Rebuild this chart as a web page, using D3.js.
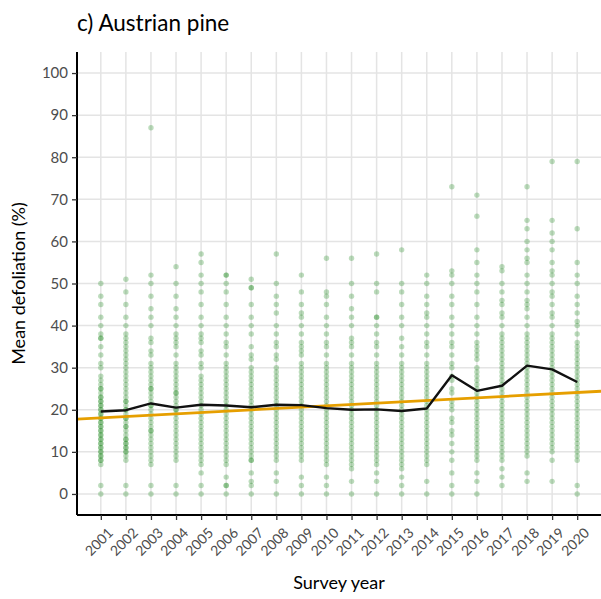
<!DOCTYPE html>
<html>
<head>
<meta charset="utf-8">
<script src="https://cdn.jsdelivr.net/npm/d3@7"></script>
<style>
  html, body { margin: 0; padding: 0; background: #fff; }
  svg { display: block; }
</style>
</head>
<body>
<svg id="chart" width="601" height="599"></svg>
<script>
// Survey years
const years = d3.range(2001, 2021);

// Mean defoliation (%) of individual Austrian pine trees, per survey year
const treeValues = {
  2001: [50, 47, 45, 42, 40, 38, 37, 37, 35, 33, 31, 30, 28, 27, 26, 25, 25, 24, 23, 23, 22, 22, 21, 21, 20, 20, 19, 19, 18, 18, 17, 17, 16, 16, 15, 15, 14, 14, 13, 13, 12, 12, 11, 11, 10, 10, 9, 9, 8, 8, 7, 2, 0],
  2002: [51, 48, 45, 42, 40, 38, 37, 36, 35, 34, 33, 32, 31, 30, 29, 28, 27, 26, 25, 24, 23, 22, 22, 21, 20, 20, 19, 18, 18, 17, 16, 16, 15, 14, 13, 13, 12, 12, 11, 11, 10, 10, 9, 8, 2, 0],
  2003: [87, 52, 50, 47, 44, 42, 40, 37, 36, 34, 33, 31, 30, 29, 28, 27, 26, 25, 25, 24, 23, 22, 21, 21, 20, 19, 18, 17, 16, 15, 15, 14, 13, 12, 11, 10, 9, 8, 7, 2, 0],
  2004: [54, 50, 47, 44, 42, 40, 38, 37, 36, 35, 33, 31, 30, 29, 28, 27, 26, 25, 24, 24, 23, 22, 21, 20, 20, 19, 18, 17, 16, 15, 14, 13, 12, 11, 10, 9, 8, 2, 0],
  2005: [57, 55, 52, 50, 48, 45, 42, 40, 38, 37, 36, 34, 33, 31, 30, 28, 27, 26, 25, 24, 23, 22, 21, 20, 19, 18, 17, 16, 15, 14, 13, 12, 11, 10, 9, 8, 7, 5, 2, 0],
  2006: [52, 52, 50, 48, 45, 42, 40, 38, 36, 35, 33, 31, 30, 29, 28, 27, 26, 25, 24, 23, 22, 21, 20, 19, 18, 17, 16, 15, 14, 13, 12, 11, 10, 9, 8, 7, 4, 2, 2, 0],
  2007: [51, 49, 49, 45, 42, 40, 38, 35, 33, 32, 30, 29, 28, 27, 26, 25, 24, 23, 22, 21, 20, 19, 18, 17, 16, 15, 14, 13, 12, 11, 10, 9, 8, 8, 5, 3, 2, 0],
  2008: [57, 50, 47, 45, 43, 40, 38, 36, 35, 33, 32, 30, 29, 28, 27, 26, 25, 24, 23, 22, 21, 20, 19, 18, 17, 16, 15, 14, 13, 12, 11, 10, 9, 8, 5, 3, 0],
  2009: [52, 48, 45, 43, 42, 40, 38, 36, 35, 34, 33, 31, 30, 29, 28, 27, 26, 25, 24, 23, 22, 21, 20, 19, 18, 17, 16, 15, 14, 13, 12, 11, 10, 9, 8, 4, 2, 0],
  2010: [56, 48, 47, 45, 42, 40, 38, 36, 35, 33, 31, 30, 29, 28, 27, 26, 25, 24, 23, 22, 21, 20, 19, 18, 17, 16, 15, 14, 13, 12, 11, 10, 9, 8, 7, 4, 2, 0],
  2011: [56, 50, 47, 44, 42, 40, 37, 36, 35, 33, 31, 30, 29, 28, 27, 26, 25, 24, 23, 22, 21, 20, 19, 18, 17, 16, 15, 14, 13, 12, 11, 10, 9, 8, 7, 6, 3, 0],
  2012: [57, 50, 48, 42, 42, 40, 38, 36, 35, 33, 31, 30, 29, 28, 27, 26, 25, 24, 23, 22, 21, 20, 19, 18, 17, 16, 15, 14, 13, 12, 11, 10, 9, 8, 7, 5, 3, 0],
  2013: [58, 50, 48, 45, 42, 40, 37, 35, 33, 31, 30, 29, 28, 27, 26, 25, 24, 23, 22, 21, 20, 19, 18, 17, 16, 15, 14, 13, 12, 11, 10, 9, 8, 7, 6, 4, 2, 0],
  2014: [52, 50, 47, 45, 43, 42, 40, 38, 36, 35, 33, 31, 30, 29, 28, 27, 26, 25, 24, 23, 22, 21, 20, 19, 18, 17, 16, 15, 14, 13, 12, 11, 10, 9, 8, 7, 3, 0],
  2015: [73, 53, 52, 50, 47, 45, 42, 40, 38, 36, 35, 33, 31, 30, 28, 27, 25, 24, 22, 21, 20, 18, 17, 15, 14, 12, 10, 8, 5, 2, 0],
  2016: [71, 66, 58, 55, 52, 50, 48, 45, 42, 40, 38, 36, 35, 34, 33, 32, 30, 29, 28, 27, 26, 25, 24, 23, 22, 21, 20, 19, 18, 17, 16, 15, 14, 13, 12, 11, 10, 9, 8, 5, 3, 0],
  2017: [54, 53, 50, 48, 46, 45, 43, 42, 40, 38, 37, 36, 35, 34, 33, 32, 31, 30, 29, 28, 27, 26, 25, 24, 23, 22, 21, 20, 19, 18, 17, 16, 15, 14, 13, 12, 11, 10, 9, 8, 6, 4, 2],
  2018: [73, 65, 63, 60, 58, 56, 55, 52, 50, 48, 46, 45, 44, 42, 40, 38, 37, 36, 35, 34, 33, 32, 31, 30, 29, 28, 27, 26, 25, 24, 23, 22, 21, 20, 19, 18, 17, 16, 15, 14, 13, 12, 11, 10, 9, 5, 3],
  2019: [79, 65, 62, 60, 58, 55, 53, 52, 50, 48, 47, 45, 43, 42, 40, 38, 37, 36, 35, 34, 33, 32, 31, 30, 29, 28, 27, 26, 25, 24, 23, 22, 21, 20, 19, 18, 17, 16, 15, 14, 13, 12, 11, 10, 8, 3],
  2020: [79, 63, 55, 52, 50, 47, 45, 43, 41, 40, 38, 36, 35, 34, 33, 32, 31, 30, 29, 28, 27, 26, 25, 24, 23, 22, 21, 20, 19, 18, 17, 16, 15, 14, 13, 12, 11, 10, 9, 8, 2, 0]
};

// Annual mean defoliation (%)
const yearMeans = [19.6, 19.9, 21.5, 20.5, 21.2, 21.0, 20.6, 21.2, 21.1, 20.4,
                   20.0, 20.1, 19.7, 20.3, 28.2, 24.5, 25.7, 30.5, 29.6, 26.6];

// Linear trend: fitted value at the first and last survey year
const trendEnds = [18.1, 24.1];

// Y tick labels
const yTicks = d3.range(0, 101, 10);

const svg = d3.select("#chart");
const panel = { left: 77, right: 601, top: 52, bottom: 515 };

const x = d3.scaleLinear()
  .domain([2001 - 0.95, 2020 + 0.95])
  .range([panel.left, panel.right]);
const y = d3.scaleLinear()
  .domain([-5, 105])
  .range([panel.bottom, panel.top]);

// Grid
const grid = svg.append("g");
grid.selectAll("line.h").data(yTicks).join("line")
  .attr("x1", panel.left).attr("x2", panel.right)
  .attr("y1", d => y(d)).attr("y2", d => y(d))
  .attr("stroke", "#e4e4e4").attr("stroke-width", 1.5);
grid.selectAll("line.v").data(years).join("line")
  .attr("x1", d => x(d)).attr("x2", d => x(d))
  .attr("y1", panel.top).attr("y2", panel.bottom)
  .attr("stroke", "#e4e4e4").attr("stroke-width", 1.5);

// Individual tree points
const points = years.flatMap(yr => treeValues[yr].map(v => ({ year: yr, value: v })));
svg.append("g").selectAll("circle").data(points).join("circle")
  .attr("cx", d => x(d.year))
  .attr("cy", d => y(d.value))
  .attr("r", 2.7)
  .attr("fill", "#228B22")
  .attr("fill-opacity", 0.3);

// Linear trend line, extended across the panel
const slope = (trendEnds[1] - trendEnds[0]) / (2020 - 2001);
const trendAt = t => trendEnds[0] + slope * (t - 2001);
const [x0, x1] = x.domain();
svg.append("line")
  .attr("x1", x(x0)).attr("y1", y(trendAt(x0)))
  .attr("x2", x(x1)).attr("y2", y(trendAt(x1)))
  .attr("stroke", "#E69F00").attr("stroke-width", 2.8);

// Annual mean line
svg.append("path")
  .datum(years.map((yr, i) => [yr, yearMeans[i]]))
  .attr("fill", "none")
  .attr("stroke", "#111")
  .attr("stroke-width", 2.4)
  .attr("stroke-linejoin", "round")
  .attr("d", d3.line().x(d => x(d[0])).y(d => y(d[1])));

// Axes
const font = "Lato, 'Open Sans', sans-serif";
const yAxis = svg.append("g")
  .attr("transform", `translate(${panel.left},0)`)
  .call(d3.axisLeft(y).tickValues(yTicks).tickSize(5).tickPadding(4));
yAxis.select(".domain").attr("stroke", "#000").attr("stroke-width", 2)
  .attr("d", `M0,${panel.top}V${panel.bottom}`);
yAxis.selectAll(".tick line").attr("stroke", "#333").attr("stroke-width", 1.3);
yAxis.selectAll(".tick text")
  .attr("fill", "#4d4d4d").style("font-family", font).style("font-size", "15px");

const xAxis = svg.append("g")
  .attr("transform", `translate(0,${panel.bottom})`)
  .call(d3.axisBottom(x).tickValues(years).tickFormat(d3.format("d")).tickSize(5).tickPadding(3));
xAxis.select(".domain").attr("stroke", "#000").attr("stroke-width", 2)
  .attr("d", `M${panel.left},0H${panel.right}`);
xAxis.selectAll(".tick line").attr("stroke", "#333").attr("stroke-width", 1.3);
xAxis.selectAll(".tick text")
  .attr("fill", "#4d4d4d").style("font-family", font).style("font-size", "14px")
  .attr("text-anchor", "end")
  .attr("dy", null)
  .attr("transform", "translate(7,13) rotate(-45)");

// Axis titles
svg.append("text")
  .attr("x", (panel.left + panel.right) / 2).attr("y", 589)
  .attr("text-anchor", "middle")
  .style("font-family", font).style("font-size", "18px").attr("fill", "#000")
  .text("Survey year");
svg.append("text")
  .attr("transform", `translate(25,${(panel.top + panel.bottom) / 2}) rotate(-90)`)
  .attr("text-anchor", "middle")
  .style("font-family", font).style("font-size", "18px").attr("fill", "#000")
  .text("Mean defoliation (%)");

// Title
svg.append("text")
  .attr("x", 77).attr("y", 31)
  .style("font-family", font).style("font-size", "22.5px").attr("fill", "#000")
  .text("c) Austrian pine");
</script>
</body>
</html>
